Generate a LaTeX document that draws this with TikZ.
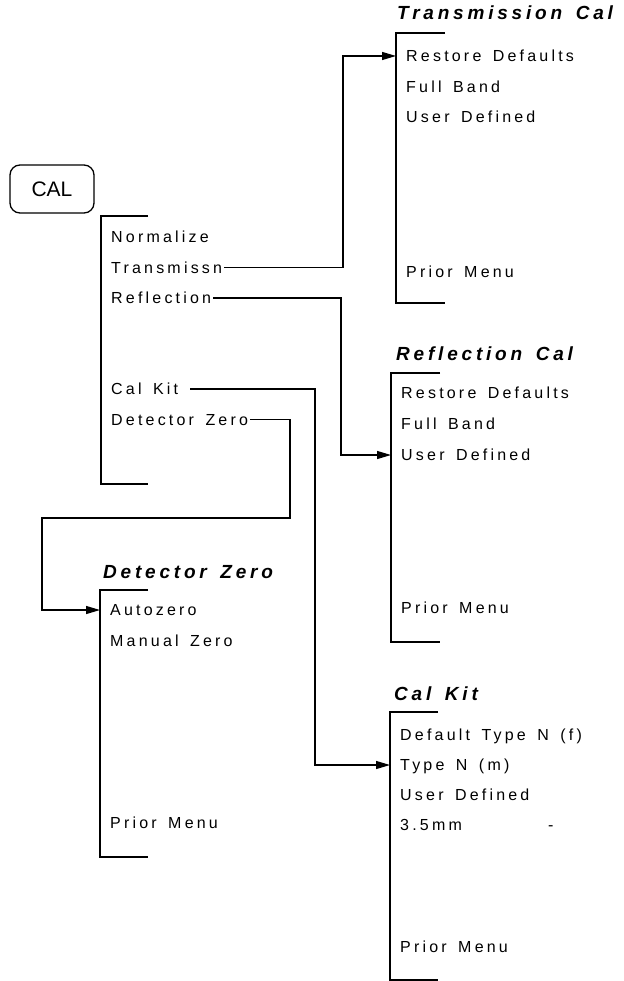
\documentclass[tikz,border=0pt]{standalone}
\usepackage{fontspec}
\setmainfont{Liberation Sans}
\newfontfamily\menufont[LetterSpace=20, WordSpace=1.7]{Liberation Sans}
\newfontfamily\headfont[LetterSpace=20, WordSpace=1.5]{Liberation Sans}
\usetikzlibrary{arrows.meta, positioning}

\begin{document}
\begin{tikzpicture}[
    x=1pt, y=-1pt,
    >={Triangle[length=14pt,width=8pt]},
    key/.style={draw, line width=1.3pt, rounded corners=10pt, minimum width=84pt,
                minimum height=48pt, inner sep=0pt, font=\fontsize{21}{24}\selectfont},
    item/.style={anchor=west, inner sep=0pt, text height=11.5pt, text depth=0pt,
                 font=\menufont\fontsize{16}{19}\selectfont},
    head/.style={anchor=base west, inner sep=0pt,
                 font=\headfont\bfseries\itshape\fontsize{19}{22}\selectfont},
    bracket/.style={line width=1.8pt},
    link/.style={->, line width=1.2pt, shorten <=2pt},
  ]
  \useasboundingbox (0,0) rectangle (623,981);

  % hard key
  \node[key] (cal) at (52,189) {CAL};

  % CAL menu
  \draw[bracket] (148,216) -| (101,484) -- (148,484);
  \node[item] (norm) at (111,237) {Normalize};
  \node[item, below=30.5pt of norm.west, anchor=west] (trans) {Transmissn};
  \node[item, below=30.5pt of trans.west, anchor=west] (refl) {Reflection};
  \node[item] (calkit) at (111,389) {Cal Kit};
  \node[item, below=30.5pt of calkit.west, anchor=west] (detz) {Detector Zero};

  % Transmission Cal menu
  \node[head] (tchead) at (397,20) {Transmission Cal};
  \draw[bracket] (445,33) -| (396,303) -- (445,303);
  \node[item] (tc1) at (406,56) {Restore Defaults};
  \node[item, below=30.5pt of tc1.west, anchor=west] (tc2) {Full Band};
  \node[item, below=30.5pt of tc2.west, anchor=west] (tc3) {User Defined};
  \node[item] (tcprior) at (406,272) {Prior Menu};

  % Reflection Cal menu
  \node[head] (rchead) at (396,360) {Reflection Cal};
  \draw[bracket] (440,373) -| (391,642) -- (440,642);
  \node[item] (rc1) at (401,393) {Restore Defaults};
  \node[item, below=31pt of rc1.west, anchor=west] (rc2) {Full Band};
  \node[item, below=31pt of rc2.west, anchor=west] (rc3) {User Defined};
  \node[item] (rcprior) at (401,608) {Prior Menu};

  % Detector Zero menu
  \node[head] (dzhead) at (103,578) {Detector Zero};
  \draw[bracket] (148,590) -| (100,857) -- (148,857);
  \node[item] (dz1) at (110,610) {Autozero};
  \node[item, below=31pt of dz1.west, anchor=west] (dz2) {Manual Zero};
  \node[item] (dzprior) at (110,823) {Prior Menu};

  % Cal Kit menu
  \node[head] (ckhead) at (394,700) {Cal Kit};
  \draw[bracket] (438,712) -| (390,980) -- (438,980);
  \node[item] (ck1) at (400,735) {Default Type N (f)};
  \node[item, below=30pt of ck1.west, anchor=west] (ck2) {Type N (m)};
  \node[item, below=30pt of ck2.west, anchor=west] (ck3) {User Defined};
  \node[item, below=30pt of ck3.west, anchor=west] (ck4) {3.5mm};
  \node[item] (ckdash) at (548,825) {-};
  \node[item] (ckprior) at (400,947) {Prior Menu};

  % connectors
  \coordinate (tcbus) at (343,0);
  \coordinate (rcbus) at (341,0);
  \coordinate (ckbus) at (315,0);
  \coordinate (dzbus) at (290,0);
  \coordinate (dzturn) at (42,518);

  \draw[link] (trans.east) -- (trans.east -| tcbus) |- ([xshift=-10pt]tc1.west);
  \draw[link] (refl.east) -- (refl.east -| rcbus) |- ([xshift=-10pt]rc3.west);
  \draw[link, shorten <=12pt] (calkit.east) -- (calkit.east -| ckbus) |- ([xshift=-10pt]ck2.west);
  \draw[link] (detz.east) -- (detz.east -| dzbus) |- (dzturn) |- ([xshift=-10pt]dz1.west);
\end{tikzpicture}
\end{document}
